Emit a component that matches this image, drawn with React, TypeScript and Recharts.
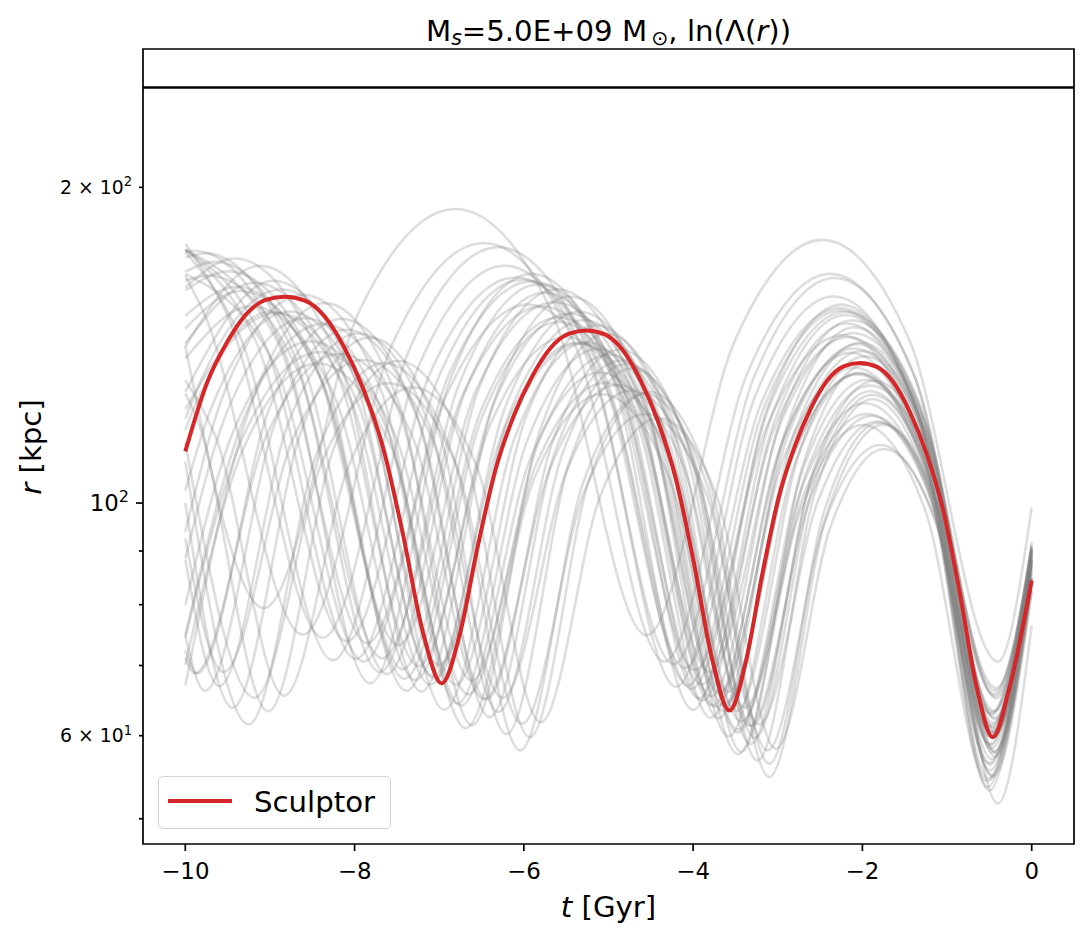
import { LineChart, Line, XAxis, YAxis, ReferenceLine, ReferenceArea, Legend } from "recharts";

const FONT = "'DejaVu Sans', sans-serif";
const RED = "#d62728";

// axes
const tDomain = [-10.5, 0.5];
const rDomain = [47.3, 271];
const xTicks = [-10, -8, -6, -4, -2, 0];
const yTicks = [50, 60, 70, 80, 90, 100, 200];
const yMajorTicks = [100];
const yLabelledTicks = [60, 100, 200];
const yLabelMantissa = ["6 \u00d7 10", "10", "2 \u00d7 10"];
const yLabelExponent = ["1", "2", "2"];
const refRadius = 249;

// Sculptor orbit
const sculptorT = [0, -0.26, -0.46, -0.656, -0.853, -1.049, -1.245, -1.441, -1.638, -1.834, -2.03, -2.2225, -2.415, -2.6075, -2.8, -2.9925, -3.185, -3.3775, -3.57, -3.781, -3.9925, -4.204, -4.415, -4.626, -4.8375, -5.049, -5.26, -5.474, -5.6875, -5.901, -6.115, -6.329, -6.5425, -6.756, -6.97, -7.201, -7.4325, -7.664, -7.895, -8.126, -8.3575, -8.589, -8.82, -9.051, -9.2825, -9.514, -9.745, -10];
const sculptorR = [84.4, 66.8, 59.8, 67.1, 82.4, 98.7, 111.6, 122.2, 130.5, 134.9, 136.0, 135.0, 130.9, 123.2, 113.2, 101.0, 85.4, 70.5, 63.4, 71.3, 87.8, 105.5, 119.6, 131.1, 140.1, 144.9, 146.1, 145.0, 140.5, 132.1, 121.3, 108.0, 91.1, 75.0, 67.3, 75.8, 93.7, 113.0, 128.3, 140.9, 150.8, 156.0, 157.3, 156.2, 151.3, 142.0, 130.1, 112.0];

// other sampled orbits (t [Gyr], r [kpc]) at pericentres, apocentres and half-way points
const orbit01 = [[0, 84.5], [-0.47, 55.0], [-1.11, 94.8], [-1.745, 112.6], [-2.38, 94.8], [-3.02, 58.3], [-3.72, 101.4], [-4.41, 120.5], [-5.1, 101.4], [-5.8, 61.8], [-6.56, 108.5], [-7.31, 128.9], [-8.07, 108.5], [-8.83, 65.5], [-9.65, 116.1], [-10, 130.9]];
const orbit02 = [[0, 87.8], [-0.5, 53.2], [-1.15, 98.3], [-1.8, 119.3], [-2.45, 98.3], [-3.1, 56.4], [-3.81, 105.1], [-4.52, 127.6], [-5.23, 105.1], [-5.93, 59.8], [-6.71, 112.5], [-7.48, 136.6], [-8.25, 112.5], [-9.02, 63.3], [-9.86, 120.3], [-10, 127.2]];
const orbit03 = [[0, 82.4], [-0.46, 54.8], [-1.125, 95.4], [-1.79, 113.6], [-2.455, 95.4], [-3.12, 58.1], [-3.845, 102.1], [-4.57, 121.6], [-5.295, 102.1], [-6.02, 61.6], [-6.81, 109.2], [-7.6, 130.1], [-8.39, 109.2], [-9.18, 65.2], [-10, 114.3]];
const orbit04 = [[0, 90.5], [-0.52, 53.6], [-1.2, 102.4], [-1.88, 125.6], [-2.56, 102.4], [-3.24, 56.8], [-3.98, 109.5], [-4.72, 134.4], [-5.46, 109.5], [-6.205, 60.2], [-7.01, 117.2], [-7.82, 143.8], [-8.63, 117.2], [-9.44, 63.8], [-10, 100.0]];
const orbit05 = [[0, 83.9], [-0.44, 58.0], [-1.135, 100.5], [-1.83, 119.6], [-2.525, 100.5], [-3.22, 61.5], [-3.98, 107.6], [-4.735, 128.0], [-5.49, 107.6], [-6.25, 65.2], [-7.08, 115.0], [-7.9, 136.9], [-8.73, 115.0], [-9.55, 69.0], [-10, 92.5]];
const orbit06 = [[0, 88.6], [-0.49, 55.6], [-1.2, 104.7], [-1.905, 127.8], [-2.61, 104.7], [-3.32, 58.9], [-4.09, 112.0], [-4.86, 136.7], [-5.63, 112.0], [-6.405, 62.5], [-7.245, 119.8], [-8.09, 146.3], [-8.93, 119.8], [-9.77, 66.2], [-10, 74.7]];
const orbit07 = [[0, 83.7], [-0.45, 57.8], [-1.17, 101.4], [-1.89, 121.1], [-2.61, 101.4], [-3.33, 61.3], [-4.115, 108.5], [-4.9, 129.6], [-5.68, 108.5], [-6.47, 65.0], [-7.325, 116.2], [-8.18, 138.7], [-9.035, 116.2], [-9.89, 68.8], [-10, 71.2]];
const orbit08 = [[0, 91.2], [-0.51, 54.6], [-1.24, 108.9], [-1.97, 135.5], [-2.7, 108.9], [-3.43, 57.9], [-4.226, 116.6], [-5.02, 145.0], [-5.82, 116.6], [-6.61, 61.4], [-7.48, 124.7], [-8.35, 155.1], [-9.215, 124.7], [-10, 67.0]];
const orbit09 = [[0, 85.6], [-0.43, 60.2], [-1.17, 107.7], [-1.91, 129.4], [-2.65, 107.7], [-3.39, 63.8], [-4.197, 115.2], [-5.003, 138.5], [-5.81, 115.2], [-6.616, 67.7], [-7.496, 123.3], [-8.375, 148.2], [-9.254, 123.3], [-10, 74.8]];
const orbit10 = [[0, 84.2], [-0.47, 57.0], [-1.22, 103.2], [-1.97, 124.5], [-2.72, 103.2], [-3.47, 60.4], [-4.29, 110.4], [-5.105, 133.2], [-5.92, 110.4], [-6.74, 64.1], [-7.63, 118.2], [-8.52, 142.6], [-9.41, 118.2], [-10, 79.9]];
const orbit11 = [[0, 88.5], [-0.45, 59.7], [-1.21, 112.8], [-1.97, 138.0], [-2.73, 112.8], [-3.49, 63.3], [-4.318, 120.8], [-5.147, 147.7], [-5.975, 120.8], [-6.804, 67.1], [-7.706, 129.2], [-8.609, 158.0], [-9.512, 129.2], [-10, 93.9]];
const orbit12 = [[0, 88.2], [-0.5, 56.5], [-1.27, 108.3], [-2.04, 133.0], [-2.81, 108.3], [-3.58, 59.9], [-4.42, 115.9], [-5.26, 142.3], [-6.1, 115.9], [-6.94, 63.5], [-7.85, 124.0], [-8.77, 152.3], [-9.68, 124.0], [-10, 102.8]];
const orbit13 = [[0, 88.9], [-0.44, 62.4], [-1.225, 115.1], [-2.01, 139.6], [-2.795, 115.1], [-3.58, 66.1], [-4.436, 123.2], [-5.291, 149.4], [-6.147, 123.2], [-7.003, 70.1], [-7.935, 131.7], [-8.868, 159.8], [-9.8, 131.7], [-10, 120.4]];
const orbit14 = [[0, 86.3], [-0.46, 59.7], [-1.255, 109.7], [-2.05, 132.9], [-2.845, 109.7], [-3.64, 63.3], [-4.507, 117.3], [-5.373, 142.2], [-6.24, 117.3], [-7.106, 67.1], [-8.051, 125.6], [-8.995, 152.2], [-10, 122.9]];
const orbit15 = [[0, 90.5], [-0.48, 58.8], [-1.285, 118.1], [-2.09, 147.1], [-2.895, 118.1], [-3.7, 62.3], [-4.577, 126.3], [-5.455, 157.4], [-6.332, 126.3], [-7.21, 66.1], [-8.166, 135.2], [-9.122, 168.4], [-10, 141.0]];
const orbit16 = [[0, 87.2], [-0.43, 62.2], [-1.245, 116.3], [-2.06, 141.7], [-2.875, 116.3], [-3.69, 65.9], [-4.578, 124.5], [-5.467, 151.6], [-6.355, 124.5], [-7.243, 69.9], [-8.212, 133.2], [-9.18, 162.2], [-10, 141.9]];
const orbit17 = [[0, 88.2], [-0.49, 58.9], [-1.315, 113.2], [-2.14, 139.1], [-2.965, 113.2], [-3.79, 62.4], [-4.689, 121.1], [-5.589, 148.8], [-6.488, 121.1], [-7.387, 66.2], [-8.367, 129.6], [-9.347, 159.3], [-10, 146.7]];
const orbit18 = [[0, 89.5], [-0.45, 61.7], [-1.285, 120.9], [-2.12, 149.4], [-2.955, 120.9], [-3.79, 65.4], [-4.7, 129.4], [-5.61, 159.9], [-6.52, 129.4], [-7.431, 69.4], [-8.423, 138.4], [-9.415, 171.1], [-10, 160.5]];
const orbit19 = [[0, 89.0], [-0.42, 65.1], [-1.265, 119.8], [-2.11, 145.2], [-2.955, 119.8], [-3.8, 69.0], [-4.721, 128.2], [-5.642, 155.4], [-6.563, 128.2], [-7.484, 73.2], [-8.488, 137.2], [-9.492, 166.3], [-10, 159.5]];
const orbit20 = [[0, 89.5], [-0.47, 61.1], [-1.325, 119.9], [-2.18, 148.3], [-3.035, 119.9], [-3.89, 64.8], [-4.822, 128.3], [-5.754, 158.7], [-6.686, 128.3], [-7.618, 68.7], [-8.634, 137.3], [-9.649, 169.8], [-10, 166.2]];
const orbit21 = [[0, 87.9], [-0.44, 63.3], [-1.305, 118.1], [-2.17, 143.9], [-3.035, 118.1], [-3.9, 67.1], [-4.843, 126.4], [-5.786, 154.0], [-6.729, 126.4], [-7.671, 71.1], [-8.699, 135.3], [-9.727, 164.8], [-10, 162.9]];
const orbit22 = [[0, 91.8], [-0.5, 59.9], [-1.375, 123.1], [-2.25, 154.6], [-3.125, 123.1], [-4.0, 63.5], [-4.954, 131.7], [-5.908, 165.4], [-6.861, 131.7], [-7.815, 67.3], [-8.855, 140.9], [-9.894, 174.0], [-10, 173.8]];
const orbit23 = [[0, 90.1], [-0.43, 65.4], [-1.32, 124.2], [-2.205, 152.1], [-3.09, 124.2], [-3.98, 69.3], [-4.947, 132.8], [-5.915, 162.7], [-6.882, 132.8], [-7.85, 73.5], [-8.904, 142.2], [-10, 174.2]];
const orbit24 = [[0, 89.9], [-0.46, 63.2], [-1.36, 123.5], [-2.26, 152.6], [-3.16, 123.5], [-4.06, 67.0], [-5.041, 132.1], [-6.022, 163.3], [-7.003, 132.1], [-7.984, 71.0], [-9.053, 141.3], [-10, 174.4]];
const orbit25 = [[0, 90.3], [-0.44, 65.7], [-1.355, 125.1], [-2.27, 153.4], [-3.185, 125.1], [-4.1, 69.6], [-5.097, 133.9], [-6.095, 164.1], [-7.092, 133.9], [-8.089, 73.8], [-9.176, 143.2], [-10, 174.6]];
const orbit26 = [[0, 90.9], [-0.48, 63.0], [-1.41, 126.3], [-2.34, 157.4], [-3.27, 126.3], [-4.2, 66.8], [-5.214, 135.2], [-6.227, 168.4], [-7.241, 135.2], [-8.255, 70.8], [-9.36, 144.6], [-10, 173.6]];
const orbit27 = [[0, 90.9], [-0.43, 66.2], [-1.38, 131.9], [-2.33, 163.9], [-3.28, 131.9], [-4.23, 70.2], [-5.266, 141.1], [-6.301, 175.4], [-7.337, 141.1], [-8.372, 74.4], [-9.501, 151.0], [-10, 176.7]];
const orbit28 = [[0, 89.9], [-0.42, 66.6], [-1.4, 133.0], [-2.38, 165.4], [-3.36, 133.0], [-4.34, 70.6], [-5.408, 142.3], [-6.476, 177.0], [-7.545, 142.3], [-8.613, 74.9], [-9.777, 151.6], [-10, 164.8]];
const orbit29 = [[0, 99.0], [-0.4, 70.6], [-1.44, 142.7], [-2.475, 178.2], [-3.51, 142.7], [-4.55, 74.8], [-5.68, 152.7], [-6.81, 190.7], [-7.94, 152.7], [-9.07, 79.4], [-10, 141.2]];
const orbit30 = [[0, 84.8], [-0.52, 54.3], [-1.2575, 98.4], [-1.995, 118.7], [-2.7325, 98.4], [-3.47, 57.6], [-4.274, 105.3], [-5.078, 127.0], [-5.882, 105.3], [-6.686, 61.0], [-7.562, 112.7], [-8.438, 135.9], [-9.314, 112.7], [-10, 70.1]];
const orbit31 = [[0, 76.4], [-0.4, 51.7], [-1.075, 97.3], [-1.75, 118.8], [-2.425, 97.3], [-3.1, 54.8], [-3.836, 104.1], [-4.572, 127.1], [-5.307, 104.1], [-6.043, 58.1], [-6.845, 111.4], [-7.647, 136.0], [-8.449, 111.4], [-9.251, 61.5], [-10, 109.5]];
const orbit32 = [[0, 89.4], [-0.49, 56.3], [-1.185, 104.3], [-1.88, 126.8], [-2.575, 104.3], [-3.27, 59.7], [-4.03, 111.7], [-4.785, 135.7], [-5.54, 111.7], [-6.3, 63.2], [-7.13, 119.4], [-7.95, 145.1], [-8.78, 119.4], [-9.6, 66.9], [-10, 88.3]];
const orbit33 = [[0, 84.2], [-0.42, 57.8], [-1.14, 107.5], [-1.86, 130.8], [-2.58, 107.5], [-3.3, 61.3], [-4.085, 115.0], [-4.87, 140.0], [-5.65, 115.0], [-6.44, 65.0], [-7.295, 123.2], [-8.15, 149.8], [-9.005, 123.2], [-9.86, 68.8], [-10, 72.4]];
const orbit34 = [[0, 84.9], [-0.47, 58.4], [-1.21, 102.0], [-1.95, 121.6], [-2.69, 102.0], [-3.43, 61.9], [-4.237, 109.1], [-5.043, 130.2], [-5.85, 109.1], [-6.656, 65.7], [-7.536, 116.8], [-8.415, 139.3], [-9.294, 116.8], [-10, 74.4]];
const orbit35 = [[0, 82.5], [-0.43, 57.3], [-1.19, 107.4], [-1.95, 131.1], [-2.71, 107.4], [-3.47, 60.8], [-4.298, 115.0], [-5.127, 140.3], [-5.955, 115.0], [-6.784, 64.4], [-7.686, 123.0], [-8.589, 150.1], [-9.492, 123.0], [-10, 88.5]];
const orbit36 = [[0, 89.6], [-0.49, 60.5], [-1.275, 109.9], [-2.06, 132.6], [-2.845, 109.9], [-3.63, 64.1], [-4.486, 117.7], [-5.341, 141.9], [-6.197, 117.7], [-7.053, 68.0], [-7.985, 125.8], [-8.918, 151.8], [-9.85, 125.8], [-10, 117.4]];
const orbit37 = [[0, 87.0], [-0.43, 60.9], [-1.225, 116.1], [-2.02, 142.2], [-2.815, 116.1], [-3.61, 64.6], [-4.477, 124.1], [-5.343, 152.2], [-6.21, 124.1], [-7.076, 68.4], [-8.021, 132.9], [-8.965, 162.9], [-10, 127.7]];
const orbit38 = [[0, 87.3], [-0.47, 60.3], [-1.285, 111.1], [-2.1, 134.6], [-2.915, 111.1], [-3.73, 63.9], [-4.618, 118.9], [-5.507, 144.0], [-6.395, 118.9], [-7.283, 67.8], [-8.252, 127.2], [-9.22, 154.1], [-10, 137.4]];
const orbit39 = [[0, 84.7], [-0.43, 60.5], [-1.265, 114.9], [-2.1, 140.4], [-2.935, 114.9], [-3.77, 64.1], [-4.68, 122.9], [-5.59, 150.3], [-6.5, 122.9], [-7.411, 68.0], [-8.403, 131.5], [-9.395, 160.8], [-10, 150.9]];
const orbit40 = [[0, 90.4], [-0.47, 61.4], [-1.335, 121.6], [-2.2, 151.1], [-3.065, 121.6], [-3.93, 65.1], [-4.873, 130.2], [-5.816, 161.7], [-6.759, 130.2], [-7.701, 69.0], [-8.729, 139.4], [-9.757, 173.0], [-10, 171.5]];
const orbit41 = [[0, 88.4], [-0.47, 62.8], [-1.36, 118.2], [-2.245, 144.5], [-3.13, 118.2], [-4.02, 66.5], [-4.987, 126.4], [-5.955, 154.6], [-6.922, 126.4], [-7.89, 70.6], [-8.944, 135.4], [-10, 165.4]];

const grayOrbits = [
  orbit01, orbit02, orbit03, orbit04, orbit05, orbit06, orbit07, orbit08, orbit09, orbit10,
  orbit11, orbit12, orbit13, orbit14, orbit15, orbit16, orbit17, orbit18, orbit19, orbit20,
  orbit21, orbit22, orbit23, orbit24, orbit25, orbit26, orbit27, orbit28, orbit29, orbit30,
  orbit31, orbit32, orbit33, orbit34, orbit35, orbit36, orbit37, orbit38, orbit39, orbit40, orbit41,
];

const toRows = (pts: number[][]) => pts.map(([t, r]) => ({ t, r }));
const sculptorRows = sculptorT.map((t, i) => ({ t, r: sculptorR[i] }));

const fmtT = (v: number) => (v < 0 ? `\u2212${-v}` : String(v));

function RTick({ x, y, payload }: any) {
  const v = payload.value;
  const major = yMajorTicks.includes(v);
  const len = major ? 7 : 4;
  const fs = major ? 22.9 : 18.8;
  const i = yLabelledTicks.indexOf(v);
  return (
    <g>
      <line x1={x} x2={x - len} y1={y} y2={y} stroke="#000" strokeWidth={1.7} />
      {i >= 0 && (
        <text x={x - len - 7} y={y + fs * 0.36} textAnchor="end" fontSize={fs} fontFamily={FONT} fill="#000">
          {yLabelMantissa[i]}
          <tspan dy={-fs * 0.42} fontSize={fs * 0.7}>{yLabelExponent[i]}</tspan>
        </text>
      )}
    </g>
  );
}

function LegendBox() {
  return (
    <div
      style={{
        position: "relative",
        width: 233,
        height: 53,
        boxSizing: "border-box",
        border: "1.5px solid #d4d4d4",
        borderRadius: 5,
        background: "rgba(255,255,255,0.8)",
      }}
    >
      <div style={{ position: "absolute", left: 8.5, top: 21.8, width: 64, height: 4, background: RED }} />
      <span
        style={{ position: "absolute", left: 95, top: 8, fontSize: 29.2, fontFamily: FONT, lineHeight: "normal", color: "#000", whiteSpace: "nowrap" }}
      >
        Sculptor
      </span>
    </div>
  );
}

export default function App() {
  const sub = { fontSize: "0.7em", position: "relative" as const, top: "0.22em" };
  return (
    <div style={{ position: "absolute", left: 0, top: 0, width: 1088, height: 939, background: "#fff", fontFamily: FONT, color: "#000" }}>
      <LineChart width={1088} height={939} margin={{ top: 49, right: 14, bottom: 55, left: 83 }}>
        <XAxis
          type="number"
          dataKey="t"
          domain={tDomain}
          ticks={xTicks}
          interval={0}
          allowDataOverflow
          height={40}
          axisLine={false}
          tickSize={7}
          tickMargin={12}
          tickLine={{ stroke: "#000", strokeWidth: 1.7 }}
          tick={{ fill: "#000", fontSize: 22.9, fontFamily: FONT }}
          tickFormatter={fmtT}
        />
        <YAxis
          type="number"
          dataKey="r"
          scale="log"
          domain={rDomain}
          ticks={yTicks}
          interval={0}
          allowDataOverflow
          width={60}
          axisLine={false}
          tickLine={false}
          tickSize={0}
          tickMargin={0}
          tick={RTick}
        />
        <ReferenceLine y={refRadius} stroke="#000" strokeWidth={2.5} />
        {grayOrbits.map((pts, i) => (
          <Line
            key={`orbit-${i}`}
            name={`orbit ${i + 1}`}
            data={toRows(pts)}
            dataKey="r"
            type="monotone"
            stroke="#808080"
            strokeOpacity={0.27}
            strokeWidth={2.6}
            dot={false}
            activeDot={false}
            legendType="none"
            isAnimationActive={false}
          />
        ))}
        <Line
          name="Sculptor"
          data={sculptorRows}
          dataKey="r"
          type="monotone"
          stroke={RED}
          strokeWidth={4}
          dot={false}
          activeDot={false}
          isAnimationActive={false}
        />
        <ReferenceArea
          x1={tDomain[0]}
          x2={tDomain[1]}
          y1={rDomain[0]}
          y2={rDomain[1]}
          ifOverflow="visible"
          fill="none"
          fillOpacity={0}
          stroke="#000"
          strokeWidth={1.7}
        />
        <Legend
          layout="vertical"
          align="center"
          verticalAlign="middle"
          wrapperStyle={{ left: 158, top: 776, width: 233, height: 53 }}
          content={() => <LegendBox />}
        />
      </LineChart>

      <div style={{ position: "absolute", left: 143, width: 931, top: 14, textAlign: "center", fontSize: 29.2, lineHeight: "normal", whiteSpace: "nowrap" }}>
        M<span style={{ ...sub, fontStyle: "italic" }}>s</span>=5.0E+09 M<span style={{ ...sub, marginLeft: "0.2em" }}>{"\u2299"}</span>, ln(Λ(<i>r</i>))
      </div>
      <div style={{ position: "absolute", left: 143, width: 931, top: 890, textAlign: "center", fontSize: 29.2, lineHeight: "normal", whiteSpace: "nowrap" }}>
        <i>t</i> [Gyr]
      </div>
      <div
        style={{
          position: "absolute",
          left: 31,
          top: 446.5,
          transform: "translate(-50%, -50%) rotate(-90deg)",
          fontSize: 29.2,
          lineHeight: "normal",
          whiteSpace: "nowrap",
        }}
      >
        <i>r</i> [kpc]
      </div>
    </div>
  );
}
